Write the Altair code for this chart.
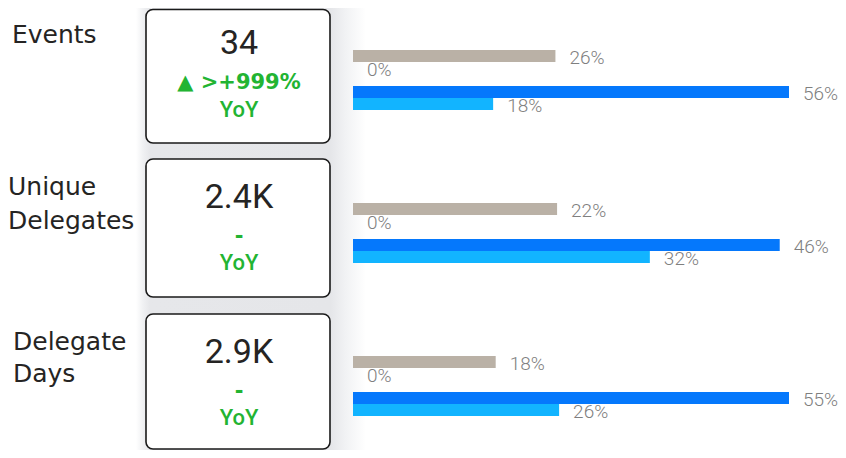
import altair as alt
import pandas as pd

# ---------------- data ----------------
METRICS = ["Events", "Unique Delegates", "Delegate Days"]
METRIC_LABELS = ["Events", "Unique\nDelegates", "Delegate\nDays"]
KPI_VALUES = ["34", "2.4K", "2.9K"]
YOY_CHANGE = ["▲ >+999%", "-", "-"]
YOY_TEXT = ["YoY", "YoY", "YoY"]

SERIES = ["Prior Period", "Baseline", "Current Period", "Comparison"]
SHARE_EVENTS = [26, 0, 56, 18]
SHARE_UNIQUE = [22, 0, 46, 32]
SHARE_DAYS = [18, 0, 55, 26]
SHARES = [SHARE_EVENTS, SHARE_UNIQUE, SHARE_DAYS]

# ---------------- styles / layout ----------------
SERIES_COLORS = ["#BAB1A6", "#9E9E9E", "#0578FC", "#12B4FF"]
LABEL_FONT = "DejaVu Sans"
NUM_FONT = "Roboto"
DARK = "#252423"
GREEN = "#22B432"
LABEL_GRAY = "#7F7F7F"
W, H = 830, 442

CARD_X = (138, 322)
CARD_CX = 231
CARD_RECTS = [(1.5, 135), (151, 289), (306, 441)]
LABEL_X = [4, 0, 5]
LABEL_BASE = [34.5, 187, 342]
LABEL_LH = [34, 34, 31.5]
NUM_BASE = [46, 200, 355]
CHG_BASE = [80.5, 235, 390]
YOY_BASE = [109, 262, 416.5]

BAR_X_RANGE = [345, 781]
X_DOMAIN_MAX = [56, 47, 55]
BAR_Y_RANGES = [[42, 102], [195, 255], [348, 408]]
SLOTS = [SERIES[0], SERIES[1], "_gap", SERIES[2], SERIES[3]]

one = pd.DataFrame({"k": [1]})
cards_df = pd.DataFrame({
    "metric": METRICS,
    "label": METRIC_LABELS,
    "kpi": KPI_VALUES,
    "chg": YOY_CHANGE,
    "yoy": YOY_TEXT,
})

layers = []

# soft shadow behind the card column
shadow = alt.Chart(one).mark_rect(
    fill=alt.Gradient(
        gradient="linear",
        stops=[
            alt.GradientStop(color="#FFFFFF", offset=0),
            alt.GradientStop(color="#F0F1F3", offset=0.03),
            alt.GradientStop(color="#E6E7EA", offset=0.06),
            alt.GradientStop(color="#E5E6E9", offset=0.846),
            alt.GradientStop(color="#F1F2F4", offset=0.91),
            alt.GradientStop(color="#FFFFFF", offset=1),
        ],
        x1=0, x2=1, y1=0, y2=0,
    )
).encode(x=alt.value(128), x2=alt.value(358), y=alt.value(0), y2=alt.value(H))
layers.append(shadow)

for i, m in enumerate(METRICS):
    src = alt.Chart(cards_df).transform_filter(alt.datum.metric == m)
    top, bottom = CARD_RECTS[i]
    card = alt.Chart(one).mark_rect(
        fill="white", stroke="#1A1A1A", strokeWidth=1.6, cornerRadius=7
    ).encode(x=alt.value(CARD_X[0]), x2=alt.value(CARD_X[1]),
             y=alt.value(top), y2=alt.value(bottom))
    label = src.mark_text(
        align="left", baseline="alphabetic", font=LABEL_FONT, fontSize=25,
        color=DARK, lineBreak="\n", lineHeight=LABEL_LH[i]
    ).encode(x=alt.value(LABEL_X[i]), y=alt.value(LABEL_BASE[i]), text="label:N")
    num = src.mark_text(
        align="center", baseline="alphabetic", font=NUM_FONT, fontSize=34, color=DARK
    ).encode(x=alt.value(CARD_CX), y=alt.value(NUM_BASE[i]), text="kpi:N")
    chg = src.mark_text(
        align="center", baseline="alphabetic", font=LABEL_FONT, fontSize=21,
        fontWeight="bold", color=GREEN
    ).encode(x=alt.value(CARD_CX), y=alt.value(CHG_BASE[i]), text="chg:N")
    yoy = src.mark_text(
        align="center", baseline="alphabetic", font=NUM_FONT, fontSize=22,
        fontWeight=500, color=GREEN
    ).encode(x=alt.value(CARD_CX), y=alt.value(YOY_BASE[i]), text="yoy:N")
    layers += [card, label, num, chg, yoy]

row_layers = []
for i, m in enumerate(METRICS):
    df_row = pd.DataFrame({"metric": m, "series": SERIES, "value": SHARES[i]})
    xs = alt.Scale(domain=[0, X_DOMAIN_MAX[i]], range=BAR_X_RANGE)
    ys = alt.Scale(domain=SLOTS, range=BAR_Y_RANGES[i], paddingInner=0, paddingOuter=0)
    base = alt.Chart(df_row).encode(
        x=alt.X("value:Q", scale=xs, axis=None),
        y=alt.Y("series:N", scale=ys, axis=None),
    )
    bars = base.mark_bar().encode(
        color=alt.Color("series:N", scale=alt.Scale(domain=SERIES, range=SERIES_COLORS), legend=None)
    )
    texts = base.transform_calculate(
        lbl="format(datum.value, '.0f') + '%'"
    ).mark_text(
        align="left", baseline="middle", dx=14, dy=1.5, font=NUM_FONT,
        fontSize=19, fontWeight=300, color=LABEL_GRAY
    ).encode(text="lbl:N")
    row_layers.append(alt.layer(bars, texts))

chart = alt.layer(*layers, *row_layers).resolve_scale(
    x="independent", y="independent"
).properties(
    width=W, height=H, padding=0, autosize=alt.AutoSizeParams(type="none"),
    background="white"
).configure_view(stroke=None)

chart.save("out.html", embed_options={"renderer": "svg", "actions": False})
